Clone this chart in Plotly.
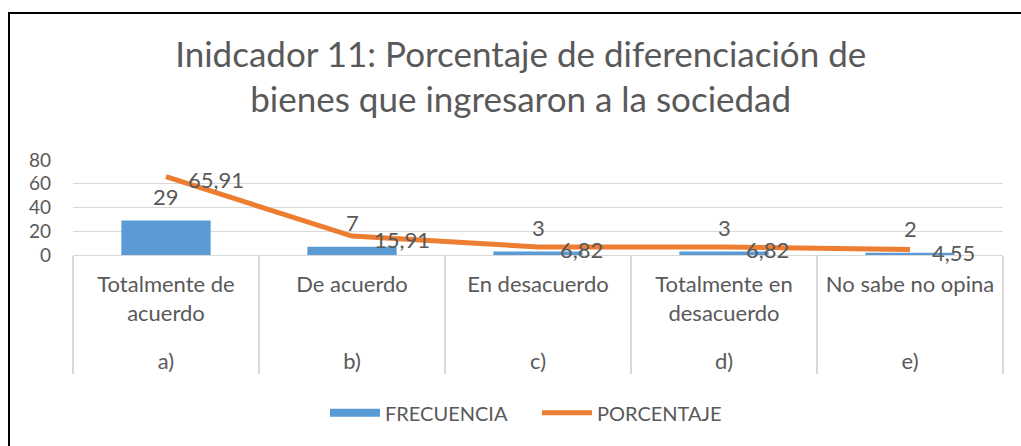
import plotly.graph_objects as go

# ---- data ----
groups = ["a)", "b)", "c)", "d)", "e)"]
categories = ["Totalmente de<br>acuerdo<br> ", "De acuerdo", "En desacuerdo",
              "Totalmente en<br>desacuerdo<br> ", "No sabe no opina"]
frecuencia = [29, 7, 3, 3, 2]
porcentaje = [65.91, 15.91, 6.82, 6.82, 4.55]
freq_labels = ["29", "7", "3", "3", "2"]
pct_labels = ["65,91", "15,91", "6,82", "6,82", "4,55"]
y_ticks = [0, 20, 40, 60, 80]
title_text = "Inidcador 11: Porcentaje de diferenciación de<br>bienes que ingresaron a la sociedad"

BLUE = "#5B9BD5"
ORANGE = "#ED7D31"
TXT = "#595959"
GRID = "#D9D9D9"
FONT = "Lato"

W, H = 1021, 446
L, R, T, B = 73, 18, 160, 191

fig = go.Figure()
fig.add_trace(go.Bar(
    x=[groups, categories], y=frecuencia, name="FRECUENCIA",
    marker=dict(color=BLUE, line=dict(width=0)), showlegend=False,
))
fig.add_trace(go.Scatter(
    x=[groups, categories], y=porcentaje, name="PORCENTAJE", mode="lines",
    line=dict(color=ORANGE, width=5), showlegend=False,
))
# legend proxies
fig.add_trace(go.Scatter(x=[None], y=[None], mode="lines", name="FRECUENCIA",
                         line=dict(color=BLUE, width=8)))
fig.add_trace(go.Scatter(x=[None], y=[None], mode="lines", name="PORCENTAJE",
                         line=dict(color=ORANGE, width=5)))

ann = []
for i, (v, t) in enumerate(zip(frecuencia, freq_labels)):
    ann.append(dict(x=i, y=v, xref="x", yref="y", text=t, showarrow=False,
                    xanchor="center", yanchor="middle", yshift=24,
                    font=dict(family=FONT, size=22, color=TXT)))
for i, (v, t) in enumerate(zip(porcentaje, pct_labels)):
    ann.append(dict(x=i, y=v, xref="x", yref="y", text=t, showarrow=False,
                    xanchor="left", yanchor="middle", xshift=20, yshift=-3,
                    font=dict(family=FONT, size=22, color=TXT)))

pw = W - L - R
ph = H - T - B
x0 = (9 - L) / pw
y1 = 1 + (T - 13) / ph
fig.add_shape(type="rect", xref="paper", yref="paper",
              x0=x0, x1=1 + (R + 20) / pw, y0=-(B + 20) / ph, y1=y1,
              line=dict(color="black", width=2), fillcolor="rgba(0,0,0,0)")

fig.update_layout(
    width=W, height=H,
    margin=dict(l=L, r=R, t=T, b=B, autoexpand=False),
    paper_bgcolor="white", plot_bgcolor="white",
    font=dict(family=FONT, color=TXT, size=20),
    title=dict(text=title_text, x=0.51, xref="container", xanchor="center",
               y=0.85, yref="container", yanchor="top",
               font=dict(family=FONT, size=35, color=TXT)),
    bargap=0.52,
    annotations=ann,
    legend=dict(orientation="h", x=(325 - L) / pw, xanchor="left", y=-1.66, yanchor="middle",
                font=dict(family=FONT, size=20, color=TXT), itemwidth=50,
                entrywidth=147, entrywidthmode="pixels",
                bgcolor="rgba(0,0,0,0)"),
)
fig.update_yaxes(range=[0, 80], tickvals=y_ticks, showgrid=True, gridcolor=GRID,
                 gridwidth=1, zeroline=False, showline=False, ticks="",
                 ticklabelstandoff=21,
                 tickfont=dict(family=FONT, size=19, color=TXT))
fig.update_xaxes(type="multicategory", showline=True, linecolor=GRID, linewidth=1,
                 showdividers=True, dividercolor=GRID, dividerwidth=1.5,
                 ticks="", ticklabelstandoff=10,
                 tickfont=dict(family=FONT, size=22, color=TXT))

fig.write_html("out.html", config={"displayModeBar": False},
               post_script="document.body.style.margin='0';")
